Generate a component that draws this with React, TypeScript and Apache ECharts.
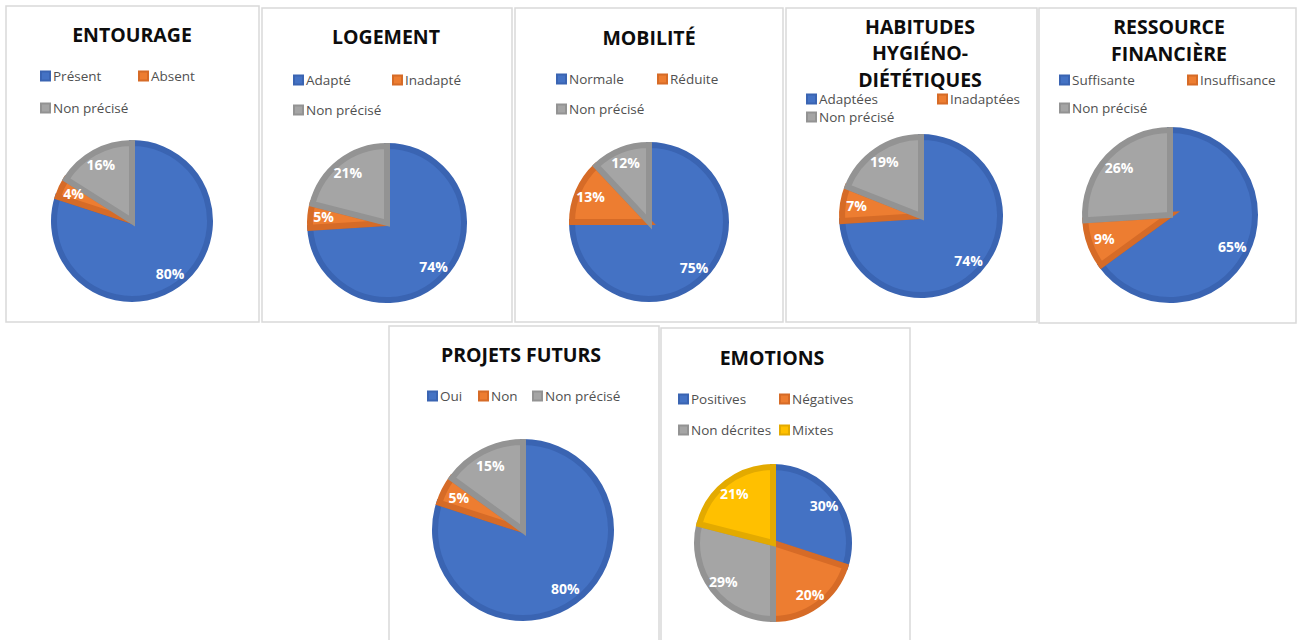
import React, { useEffect, useRef } from 'react';
import * as echarts from 'echarts';

// ---- Data ----
const entourageNames = ['Présent', 'Absent', 'Non précisé'];
const entourageValues = [80, 4, 16];

const logementNames = ['Adapté', 'Inadapté', 'Non précisé'];
const logementValues = [74, 5, 21];

const mobiliteNames = ['Normale', 'Réduite', 'Non précisé'];
const mobiliteValues = [75, 13, 12];

const habitudesNames = ['Adaptées', 'Inadaptées', 'Non précisé'];
const habitudesValues = [74, 7, 19];

const ressourceNames = ['Suffisante', 'Insuffisance', 'Non précisé'];
const ressourceValues = [65, 9, 26];

const projetsNames = ['Oui', 'Non', 'Non précisé'];
const projetsValues = [80, 5, 15];

const emotionsNames = ['Positives', 'Négatives', 'Non décrites', 'Mixtes'];
const emotionsValues = [30, 20, 29, 21];

const titles = [
  'ENTOURAGE',
  'LOGEMENT',
  'MOBILITÉ',
  'HABITUDES\nHYGIÉNO-\nDIÉTÉTIQUES',
  'RESSOURCE\nFINANCIÈRE',
  'PROJETS FUTURS',
  'EMOTIONS',
];

// ---- Styles ----
const FILL = ['#4472C4', '#ED7D31', '#A5A5A5', '#FFC000'];
const EDGE = ['#3A64B2', '#D66B27', '#939393', '#E3AA00'];

const charts = [
  { names: entourageNames, values: entourageValues },
  { names: logementNames, values: logementValues },
  { names: mobiliteNames, values: mobiliteValues },
  { names: habitudesNames, values: habitudesValues },
  { names: ressourceNames, values: ressourceValues },
  { names: projetsNames, values: projetsValues },
  { names: emotionsNames, values: emotionsValues },
];

// layout: panel box [x, y, w, h], pie center/radius, title position, legend item positions
const layout = [
  { box: [6, 6, 253, 316], cx: 132, cy: 221, r: 81, tx: 132, ty: 34, lh: 26, legend: [[40, 76], [138, 76], [40, 108]] },
  { box: [262, 8, 250, 314], cx: 387, cy: 223, r: 80, tx: 386, ty: 36, lh: 26, legend: [[293, 80], [392, 80], [293, 110]] },
  { box: [515, 8, 268, 314], cx: 649, cy: 222, r: 80, tx: 649, ty: 37, lh: 26, legend: [[556, 79], [657, 79], [556, 109]] },
  { box: [786, 8, 251, 314], cx: 921, cy: 216, r: 82, tx: 920, ty: 52.5, lh: 26.5, legend: [[806, 99], [937, 99], [806, 117]] },
  { box: [1039, 8, 257, 315], cx: 1170, cy: 215, r: 88, tx: 1169, ty: 39.5, lh: 27, legend: [[1059, 80], [1187, 80], [1059, 108]] },
  { box: [389, 326, 270, 330], cx: 523, cy: 530, r: 91, tx: 521, ty: 354, lh: 26, legend: [[427, 396], [478, 396], [532, 396]] },
  { box: [661, 328, 249, 330], cx: 773, cy: 543, r: 79, tx: 772, ty: 357, lh: 26, legend: [[678, 399], [779, 399], [678, 430], [779, 430]] },
];

const BORDER_W = 6;

export default function App() {
  const ref = useRef<HTMLDivElement>(null);

  useEffect(() => {
    if (!ref.current) return;
    const chart = echarts.init(ref.current, undefined, { renderer: 'svg' });

    const graphic: any[] = [];
    const legend: any[] = [];
    const realSeries: any[] = [];
    const labelSeries: any[] = [];

    charts.forEach((c, i) => {
      const L = layout[i];
      graphic.push({
        type: 'rect',
        shape: { x: L.box[0], y: L.box[1], width: L.box[2], height: L.box[3] },
        style: { fill: 'none', stroke: '#D9D9D9', lineWidth: 1.5 },
        z: -10,
        silent: true,
      });
      graphic.push({
        type: 'text',
        x: L.tx,
        y: L.ty,
        style: {
          text: titles[i],
          textAlign: 'center',
          textVerticalAlign: 'middle',
          fontFamily: 'Open Sans',
          fontWeight: 'bold',
          fontSize: 19.5,
          lineHeight: L.lh,
          fill: '#0D0D0D',
        },
        silent: true,
      });

      c.names.forEach((n, k) => {
        legend.push({
          data: [n],
          left: L.legend[k][0],
          top: L.legend[k][1] - 9,
          icon: 'rect',
          itemWidth: 9,
          itemHeight: 9,
          itemGap: 0,
          padding: 0,
          selectedMode: false,
          textStyle: {
            fontFamily: 'Open Sans',
            fontSize: 13.5,
            lineHeight: 18,
            color: '#505050',
            padding: [0, 0, 0, -2],
          },
        });
      });

      const data = c.names.map((n, k) => ({
        name: n,
        value: c.values[k],
        itemStyle: { color: FILL[k], borderColor: EDGE[k] },
      }));

      realSeries.push({
        type: 'pie',
        center: [L.cx, L.cy],
        radius: L.r - BORDER_W / 2,
        startAngle: 90,
        clockwise: true,
        avoidLabelOverlap: false,
        label: { show: false },
        labelLine: { show: false },
        itemStyle: { borderWidth: BORDER_W, borderJoin: 'miter' },
        emphasis: { disabled: true },
        data,
      });

      labelSeries.push({
        type: 'pie',
        center: [L.cx, L.cy],
        radius: [L.r * 0.52, L.r],
        startAngle: 90,
        clockwise: true,
        silent: true,
        legendHoverLink: false,
        avoidLabelOverlap: false,
        itemStyle: { color: 'rgba(0,0,0,0)', borderWidth: 0 },
        labelLine: { show: false },
        label: {
          show: true,
          position: 'inside',
          formatter: '{c}%',
          color: '#FFFFFF',
          fontFamily: 'Open Sans',
          fontWeight: 'bold',
          fontSize: 14,
        },
        emphasis: { disabled: true },
        data: c.names.map((n, k) => ({ name: n, value: c.values[k] })),
      });
    });

    chart.setOption({
      animation: false,
      backgroundColor: '#FFFFFF',
      graphic,
      legend,
      series: [...realSeries, ...labelSeries],
    });

    return () => chart.dispose();
  }, []);

  return (
    <div
      ref={ref}
      style={{ position: 'absolute', left: 0, top: 0, width: 1299, height: 640, background: '#fff' }}
    />
  );
}
